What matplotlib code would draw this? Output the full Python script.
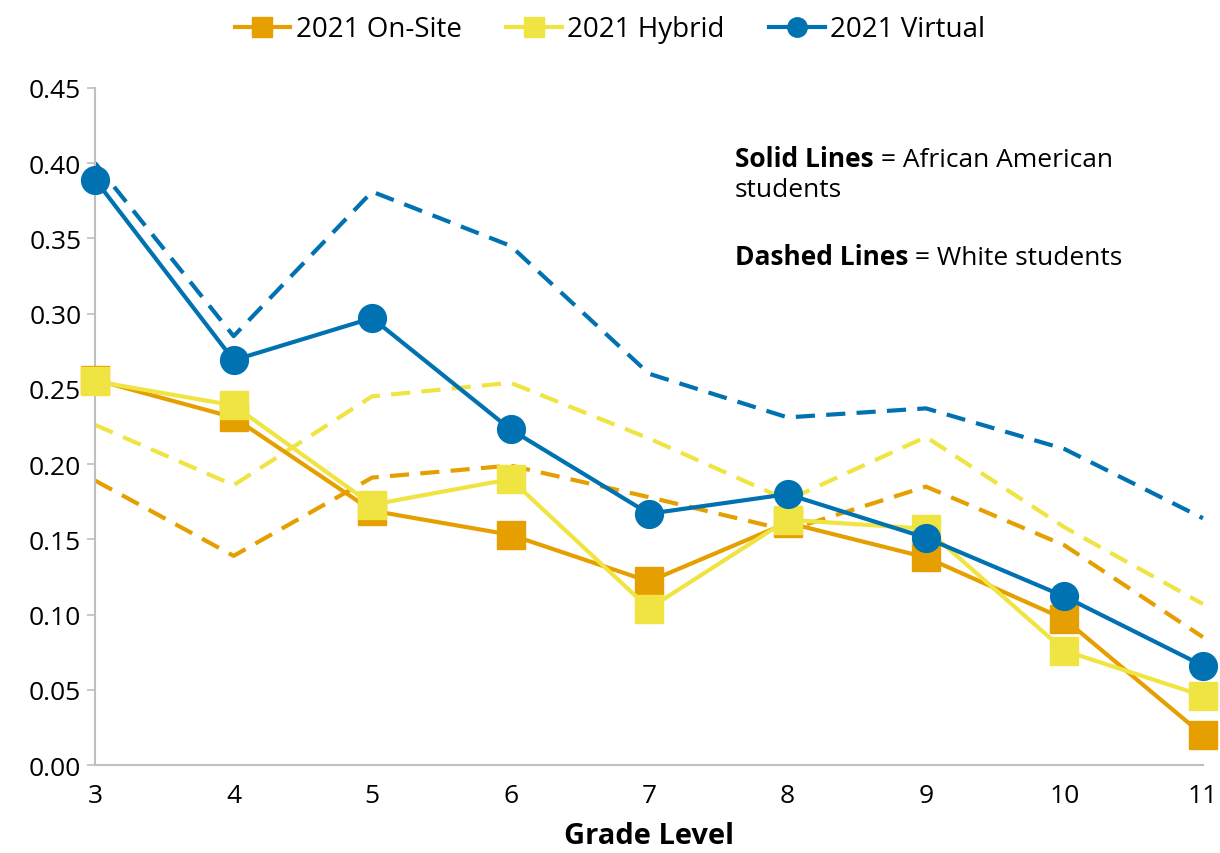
import matplotlib.pyplot as plt
import numpy as np

plt.rcParams['font.family'] = ['Open Sans', 'DejaVu Sans']

grades = [3, 4, 5, 6, 7, 8, 9, 10, 11]

# solid = African American students
onsite_aa = [0.256, 0.231, 0.169, 0.153, 0.122, 0.161, 0.138, 0.097, 0.020]
hybrid_aa = [0.255, 0.239, 0.173, 0.190, 0.104, 0.163, 0.157, 0.076, 0.046]
virtual_aa = [0.389, 0.269, 0.297, 0.223, 0.167, 0.180, 0.151, 0.112, 0.066]

# dashed = White students
onsite_w = [0.189, 0.139, 0.191, 0.199, 0.178, 0.156, 0.185, 0.146, 0.085]
hybrid_w = [0.226, 0.186, 0.245, 0.254, 0.217, 0.176, 0.218, 0.158, 0.107]
virtual_w = [0.400, 0.285, 0.381, 0.345, 0.260, 0.231, 0.237, 0.210, 0.164]

orange = "#E69F00"
yellow = "#F0E442"
blue = "#0072B2"

fig = plt.figure(figsize=(12.2, 8.54), dpi=100)
ax = fig.add_axes([0.078, 0.103, 0.908, 0.793])

lw = 3
dash = (0, (4.6, 2.7))
ax.plot(grades, onsite_w, color=orange, lw=lw, ls=dash, clip_on=False)
ax.plot(grades, hybrid_w, color=yellow, lw=lw, ls=dash, clip_on=False)
ax.plot(grades, virtual_w, color=blue, lw=lw, ls=dash, clip_on=False)

ax.plot(grades, onsite_aa, color=orange, lw=lw, marker="s", ms=20, label="2021 On-Site", clip_on=False, zorder=3)
ax.plot(grades, hybrid_aa, color=yellow, lw=lw, marker="s", ms=20, label="2021 Hybrid", clip_on=False, zorder=4)
ax.plot(grades, virtual_aa, color=blue, lw=lw, marker="o", ms=20, label="2021 Virtual", clip_on=False, zorder=5)

ax.set_xlim(3, 11)
ax.set_ylim(0, 0.45)
ax.set_xticks(grades)
ax.set_yticks(np.arange(0, 0.46, 0.05))
ax.yaxis.set_major_formatter(plt.FormatStrFormatter("%.2f"))
ax.tick_params(axis="y", colors="#BFBFBF", labelcolor="black", labelsize=19, length=6, width=1.2, pad=4)
ax.tick_params(axis="x", length=0, labelsize=19, pad=13)
for s in ["top", "right"]:
    ax.spines[s].set_visible(False)
for s in ["left", "bottom"]:
    ax.spines[s].set_color("#BFBFBF")
    ax.spines[s].set_linewidth(1.5)

ax.set_xlabel("Grade Level", fontsize=21, fontweight="bold", labelpad=9)

handles, labels = ax.get_legend_handles_labels()
fig.legend(handles, labels, loc="upper center", bbox_to_anchor=(0.5, 1.01), ncol=3,
           frameon=False, fontsize=20, markerscale=0.7, handlelength=2.0,
           handletextpad=0.2, columnspacing=1.6)

fs = 19
t1 = ax.text(7.62, 0.412, "Solid Lines", fontsize=fs, fontweight="bold", va="top")
ax.annotate(" = African American", xy=(1, 0), xycoords=t1, fontsize=fs, va="bottom")
ax.text(7.62, 0.391, "students", fontsize=fs, va="top")
t2 = ax.text(7.62, 0.347, "Dashed Lines", fontsize=fs, fontweight="bold", va="top")
ax.annotate(" = White students", xy=(1, 0), xycoords=t2, fontsize=fs, va="bottom")

fig.savefig("out.png", dpi=100)
